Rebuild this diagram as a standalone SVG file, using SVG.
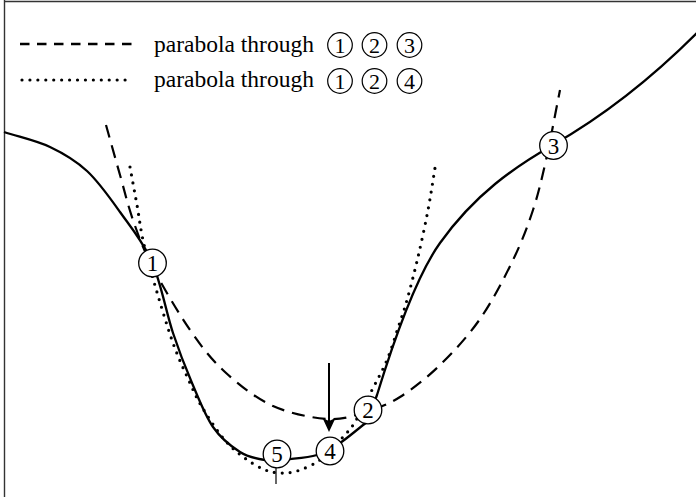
<svg xmlns="http://www.w3.org/2000/svg" width="696" height="497" viewBox="0 0 696 497">
<style>
.frame{stroke:#333;stroke-width:1.4;fill:none}
.solid{fill:none;stroke:#000;stroke-width:2.3;stroke-linejoin:round}
.dash{fill:none;stroke:#000;stroke-width:2.2;stroke-dasharray:13 8}
.ldash{fill:none;stroke:#000;stroke-width:2.4;stroke-dasharray:9.5 7.5}
.dot{fill:none;stroke:#000;stroke-width:3.2;stroke-linecap:round;stroke-dasharray:0 8}
.ldot{fill:none;stroke:#000;stroke-width:3.2;stroke-linecap:round;stroke-dasharray:0 7.93}
.pt circle{fill:#fff;stroke:#000;stroke-width:1.3}
.pt text{font-family:"Liberation Serif",serif;font-size:23px;text-anchor:middle;fill:#000}
.lg circle{fill:#fff;stroke:#000;stroke-width:1.2}
.lg text{font-family:"Liberation Serif",serif;font-size:22px;text-anchor:middle;fill:#000}
.lbl{font-family:"Liberation Serif",serif;font-size:23.5px;fill:#000}
</style>
<defs>
<marker id="ah" markerWidth="14" markerHeight="13" refX="7" refY="6.5" orient="auto" markerUnits="userSpaceOnUse" viewBox="0 0 14 13">
<path d="M0,0 L14,6.5 L0,13 L3,6.5 Z" fill="#000"/>
</marker>
</defs>
<g id="frame">
<line class="frame" x1="4.5" y1="0" x2="4.5" y2="497"/>
<line class="frame" x1="4" y1="1.5" x2="696" y2="1.5"/>
</g>
<g id="legend">
<line class="ldash" x1="20" y1="44" x2="135" y2="44"/>
<text class="lbl" x="154" y="52">parabola through</text>
<line class="ldot" x1="22" y1="80" x2="133" y2="80"/>
<text class="lbl" x="154" y="87">parabola through</text>
<g class="lg">
<circle cx="340" cy="45" r="12.3"/><text x="340" y="52.5">1</text>
<circle cx="374.5" cy="45" r="12.3"/><text x="374.5" y="52.5">2</text>
<circle cx="409.5" cy="45" r="12.3"/><text x="409.5" y="52.5">3</text>
<circle cx="340" cy="81" r="12.3"/><text x="340" y="88.5">1</text>
<circle cx="374.5" cy="81" r="12.3"/><text x="374.5" y="88.5">2</text>
<circle cx="409.5" cy="81" r="12.3"/><text x="409.5" y="88.5">4</text>
</g>
</g>
<g id="connectors">
<path id="function" class="solid" d="M4,132 C19.3,137 36.2,140.5 50,147 C63.8,153.5 75.3,160.2 87,171 C98.7,181.8 109.2,196.8 120,212 C130.8,227.2 143.2,241.8 152,262 C160.8,282.2 166.3,312.8 173,333 C179.7,353.2 185.3,367.3 192,383 C198.7,398.7 205,415.5 213,427 C221,438.5 231.3,446.5 240,452 C248.7,457.5 256.7,458.8 265,460 C273.3,461.2 281.3,459.8 290,459 C298.7,458.2 308.7,457.7 317,455 C325.3,452.3 332.8,447.7 340,443 C347.2,438.3 359,428 367,422 L377,395 C395,336.5 418,273.8 440,243 C475,194 515,166.7 553,145 C601,117.6 649,81 697,33"/>
<path id="parabola123" class="dash" d="M106,125 C110.7,141.7 115.5,159.2 120,175 C124.5,190.8 127.7,204.8 133,220 C138.3,235.2 142.5,247.7 152,266 C161.5,284.3 177.8,312.3 190,330 C202.2,347.7 211.2,359.3 225,372 C238.8,384.7 255.7,398.2 273,406 C290.3,413.8 313.2,418.2 329,419 C344.8,419.8 356.2,414.7 368,411 C379.8,407.3 388,404.7 400,397 C412,389.3 426.7,378 440,365 C453.3,352 467.8,336.5 480,319 C492.2,301.5 504.2,278.2 513,260 C521.8,241.8 527.5,226.7 533,210 C538.5,193.3 541.5,180 546,160 C550.5,140 555.3,113.3 560,90"/>
<path id="parabola124" class="dot" d="M130,167 C132.3,179.7 134.8,192.8 137,205 C139.2,217.2 140.2,227.2 143,240 C145.8,252.8 149,264.8 154,282 C159,299.2 167,326.2 173,343 C179,359.8 185.2,372.3 190,383 C194.8,393.7 196.5,397.8 202,407 C207.5,416.2 216.3,429.8 223,438 C229.7,446.2 235.3,450.8 242,456 C248.7,461.2 256.7,466.2 263,469 C269.3,471.8 274.3,472.7 280,473 C285.7,473.3 290.8,472.8 297,471 C303.2,469.2 311.5,465.3 317,462 C322.5,458.7 325.7,455.2 330,451 C334.3,446.8 338.8,441.8 343,437 C347.2,432.2 350.2,429.8 355,422 C359.8,414.2 366.7,400.3 372,390 C377.3,379.7 382.7,370.3 387,360 C391.3,349.7 394.7,338 398,328 C401.3,318 403.7,311.8 407,300 C410.3,288.2 414.5,272 418,257 C421.5,242 425.2,224.8 428,210 C430.8,195.2 432.7,182 435,168"/>
<line id="arrow" x1="329" y1="363" x2="329" y2="425" stroke="#000" stroke-width="2" marker-end="url(#ah)"/>
<line id="tick" x1="276" y1="467" x2="276" y2="484" stroke="#000" stroke-width="1.2"/>
</g>
<g id="p1" class="pt"><circle cx="152.5" cy="263" r="13.8"/><text x="152.5" y="271">1</text></g>
<g id="p2" class="pt"><circle cx="368" cy="410" r="13.8"/><text x="368" y="418">2</text></g>
<g id="p3" class="pt"><circle cx="553.5" cy="145.5" r="13.8"/><text x="553.5" y="153.5">3</text></g>
<g id="p4" class="pt"><circle cx="330" cy="451" r="13.8"/><text x="330" y="459">4</text></g>
<g id="p5" class="pt"><circle cx="277" cy="454" r="13.8"/><text x="277" y="462">5</text></g>
</svg>
